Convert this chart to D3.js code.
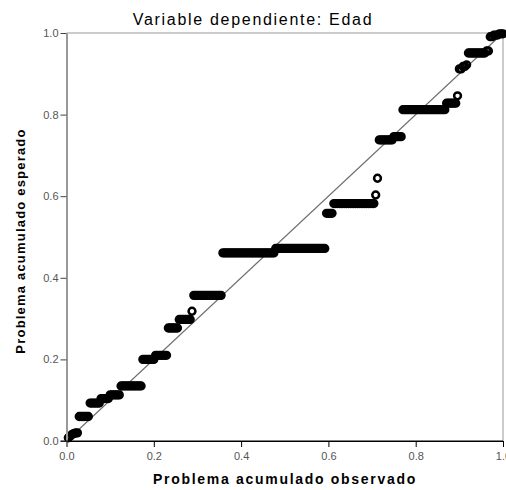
<!DOCTYPE html>
<html>
<head>
<meta charset="utf-8">
<script src="https://cdn.jsdelivr.net/npm/d3@7"></script>
<style>
  body { margin: 0; background: #fff; }
  svg text { font-family: "Liberation Sans", Arial, sans-serif; }
</style>
</head>
<body>
<div id="chart"></div>
<script>
(function () {

    // expected cumulative probability for each tied group, and how many cases share it
    var expectedLevels = [0.008, 0.012, 0.016, 0.018, 0.020, 0.060, 0.093, 0.104, 0.113, 0.135,
        0.200, 0.210, 0.277, 0.298, 0.318, 0.357, 0.461, 0.472, 0.558, 0.582,
        0.603, 0.644, 0.738, 0.746, 0.812, 0.828, 0.846, 0.912, 0.918, 0.922,
        0.951, 0.956, 0.991, 0.995, 0.998];
    var groupCounts = [1, 1, 1, 1, 2, 6, 6, 5, 6, 12,
        7, 7, 6, 7, 1, 16, 29, 28, 4, 23,
        1, 1, 8, 5, 24, 6, 1, 2, 2, 1,
        10, 2, 2, 3, 3];
    var tickValues = [0, 0.2, 0.4, 0.6, 0.8, 1.0];
    var tickLabels = ["0.0", "0.2", "0.4", "0.6", "0.8", "1.0"];

    var width = 506, height = 490;
    var margin = {top: 33, right: 3, bottom: 49, left: 66.5};

    var svg = d3.select("#chart").append("svg")
        .attr("width", width)
        .attr("height", height);

    var x = d3.scaleLinear().domain([0, 1]).range([margin.left, width - margin.right]);
    var y = d3.scaleLinear().domain([0, 1]).range([height - margin.bottom, margin.top]);

    /* build points: observed = rank / n, expected = group level */
    var n = d3.sum(groupCounts);
    var points = [];
    var rank = 0;
    expectedLevels.forEach(function (lvl, i) {
        for (var k = 0; k < groupCounts[i]; k++) {
            rank++;
            points.push({obs: rank / n, exp: lvl});
        }
    });

    // frame
    svg.append("line")
        .attr("x1", x(0)).attr("x2", x(1))
        .attr("y1", y(1)).attr("y2", y(1))
        .attr("stroke", "#999").attr("stroke-width", 1);
    svg.append("line")
        .attr("x1", x(1)).attr("x2", x(1))
        .attr("y1", y(1)).attr("y2", y(0))
        .attr("stroke", "#999").attr("stroke-width", 1);

    // reference diagonal
    svg.append("line")
        .attr("x1", x(0)).attr("y1", y(0))
        .attr("x2", x(1)).attr("y2", y(1))
        .attr("stroke", "#6e6e6e").attr("stroke-width", 1.1);

    // points
    svg.append("g").selectAll("circle")
        .data(points)
        .enter().append("circle")
        .attr("cx", function (d) { return x(d.obs); })
        .attr("cy", function (d) { return y(d.exp); })
        .attr("r", 3.4)
        .attr("fill", "none")
        .attr("stroke", "#000")
        .attr("stroke-width", 2.5);

    // x axis
    var xAxis = svg.append("g")
        .attr("transform", "translate(0," + y(0) + ")")
        .call(d3.axisBottom(x).tickValues(tickValues)
            .tickFormat(function (d, i) { return tickLabels[i]; })
            .tickSize(6).tickSizeOuter(0));
    xAxis.select(".domain").attr("stroke", "#000");
    xAxis.selectAll("line").attr("stroke", "#000");
    xAxis.selectAll("text")
        .attr("fill", "#555")
        .style("font-size", "11px")
        .attr("dy", "0.9em");

    // y axis
    var yAxis = svg.append("g")
        .attr("transform", "translate(" + x(0) + ",0)")
        .call(d3.axisLeft(y).tickValues(tickValues)
            .tickFormat(function (d, i) { return tickLabels[i]; })
            .tickSize(6).tickSizeOuter(0));
    yAxis.select(".domain").attr("stroke", "#999").attr("stroke-width", 2);
    yAxis.selectAll("line").attr("stroke", "#444");
    yAxis.selectAll("text")
        .attr("fill", "#555")
        .style("font-size", "11px")
        .attr("x", -8);

    // bottom axis drawn over the points
    svg.append("line")
        .attr("x1", x(0) - 6).attr("x2", x(1))
        .attr("y1", y(0)).attr("y2", y(0))
        .attr("stroke", "#000");

    // titles
    svg.append("text")
        .attr("x", 253)
        .attr("y", 25)
        .attr("text-anchor", "middle")
        .style("font-size", "16px")
        .style("letter-spacing", "1.7px")
        .attr("fill", "#000")
        .text("Variable dependiente: Edad");

    svg.append("text")
        .attr("x", 285)
        .attr("y", 484)
        .attr("text-anchor", "middle")
        .style("font-size", "14px")
        .style("font-weight", "bold")
        .style("letter-spacing", "1.7px")
        .attr("fill", "#000")
        .text("Problema acumulado observado");

    svg.append("text")
        .attr("transform", "translate(25,241) rotate(-90)")
        .attr("text-anchor", "middle")
        .style("font-size", "13px")
        .style("font-weight", "bold")
        .style("letter-spacing", "1.2px")
        .attr("fill", "#000")
        .text("Problema acumulado esperado");
})();
</script>
</body>
</html>
